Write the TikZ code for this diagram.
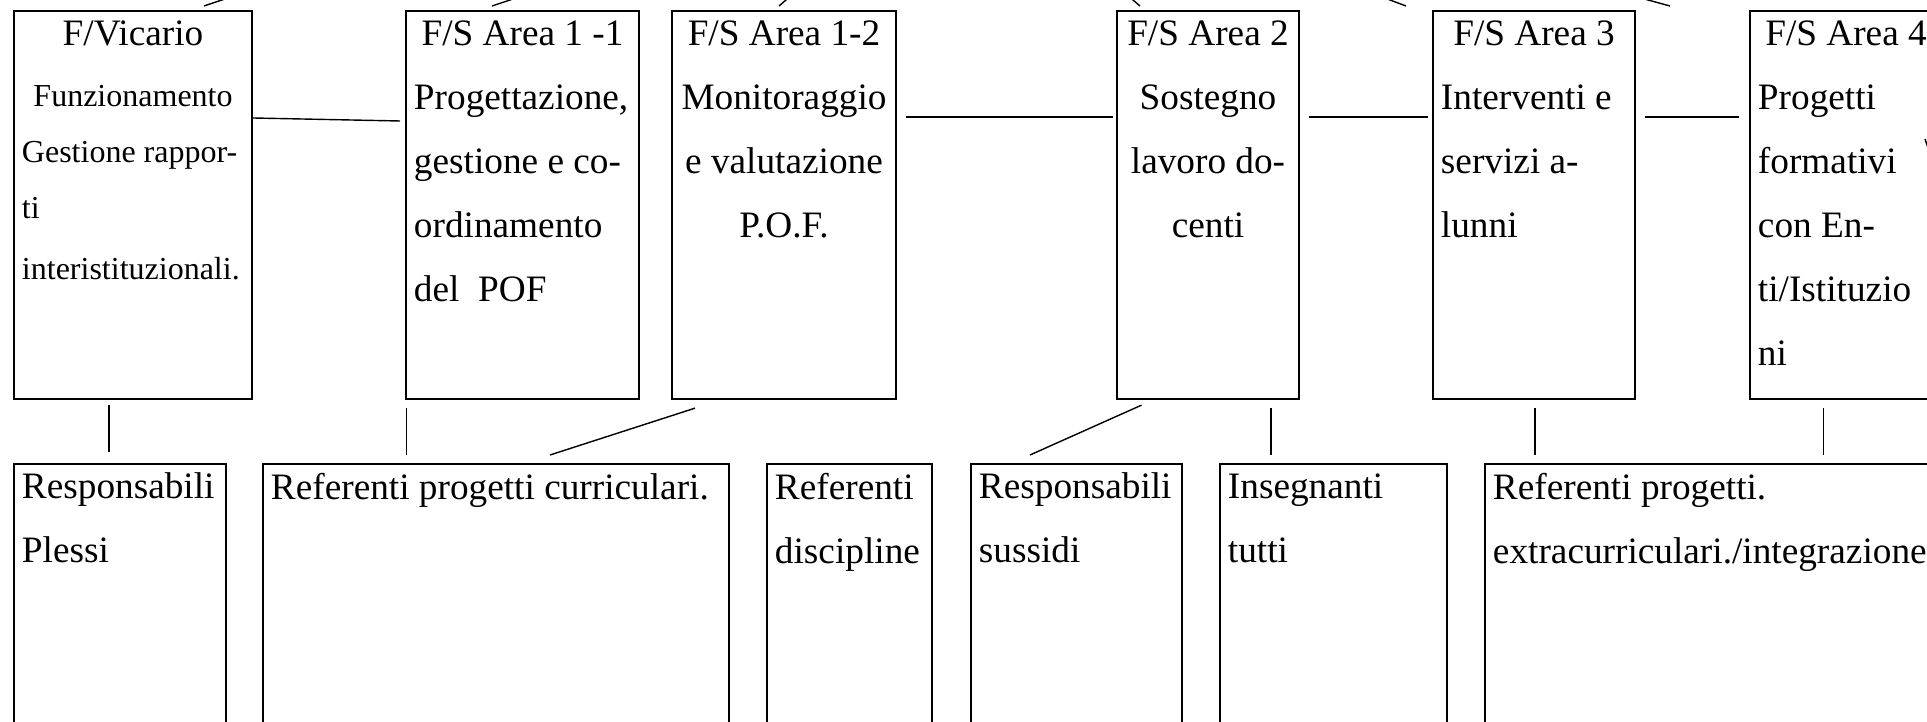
\documentclass[tikz,border=0pt]{standalone}
\usepackage{fontspec}
\setmainfont{Liberation Serif}

\newcommand{\mainsize}{\fontsize{10.6}{18.2}\selectfont}
\newcommand{\vicsize}{\fontsize{9.1}{16}\selectfont}
\newcommand{\boxtext}[3]{\parbox[t][#2][t]{#1}{\rule{0pt}{0.26cm}#3}}

\begin{document}
\begin{tikzpicture}[x=0.01cm, y=-0.01cm,
  box/.style={draw, rectangle, line width=0.55pt, anchor=north west, inner xsep=0.08cm, inner ysep=0.09cm, font=\mainsize},
  conn/.style={line width=0.4pt}]
  \useasboundingbox (0,0) rectangle (1927,722);
  \clip (0,0) rectangle (1927,722);
  \fill[white] (0,0) rectangle (1927,722);

  % upper row
  \node (vicario) [box] at (13,10) {\boxtext{2.22cm}{3.70cm}{\centering F/Vicario\par\vspace{0.04cm}
    \vicsize Funzionamento\par\raggedright Gestione rappor-\\ti\\[0.04cm]interistituzionali.}};
  \node (progett) [box] at (405,10) {\boxtext{2.17cm}{3.70cm}{\centering F/S Area 1 -1\par
    \raggedright Progettazione,\\gestione e co-\\ordinamento\\del\ \ POF}};
  \node (monit) [box] at (671,10) {\boxtext{2.08cm}{3.70cm}{\centering F/S Area 1-2\\Monitoraggio\\e valutazione\\P.O.F.}};
  \node (sostegno) [box] at (1116,10) {\boxtext{1.66cm}{3.70cm}{\centering F/S Area 2\\Sostegno\\lavoro do-\\centi}};
  \node (interv) [box] at (1432,10) {\boxtext{1.86cm}{3.70cm}{\centering F/S Area 3\par
    \raggedright Interventi e\\servizi a-\\lunni}};
  \node (enti) [box] at (1749,10) {\boxtext{1.76cm}{3.70cm}{\centering F/S Area 4\par
    \raggedright Progetti\\formativi\\con En-\\ti/Istituzio\\ni}};

  % lower row
  \node (plessi) [box] at (13,463) {\boxtext{1.96cm}{2.82cm}{\raggedright Responsabili\\Plessi}};
  \node (curric) [box] at (262,463) {\boxtext{4.50cm}{2.82cm}{\raggedright Referenti progetti curriculari.}};
  \node (discip) [box] at (766,463) {\boxtext{1.49cm}{2.82cm}{\raggedright Referenti\\discipline}};
  \node (sussidi) [box] at (970,463) {\boxtext{1.95cm}{2.82cm}{\raggedright Responsabili\\sussidi}};
  \node (insegn) [box] at (1219,463) {\boxtext{2.11cm}{2.82cm}{\raggedright Insegnanti\\tutti}};
  \node (extra) [box] at (1484,463) {\boxtext{5.00cm}{2.82cm}{\raggedright Referenti progetti.\\extracurriculari./integrazione}};

  % ends of the lines leaving the picture
  \coordinate (upvic) at (240,-6);
  \coordinate (upprog) at (528,-6);
  \coordinate (upmon) at (793,-6);
  \coordinate (upsost) at (1126,-6);
  \coordinate (upint) at (1374,-6);
  \coordinate (upenti) at (1626,-6);
  \coordinate (rim1) at (1925,139);
  \coordinate (rim2) at (1929,151);

  \draw[conn] ([shift={(191,-4)}]vicario.north west) -- (upvic);
  \draw[conn] ([shift={(87,-4)}]progett.north west) -- (upprog);
  \draw[conn] ([shift={(108,-4)}]monit.north west) -- (upmon);
  \draw[conn] ([shift={(24,-4)}]sostegno.north west) -- (upsost);
  \draw[conn] ([shift={(-26,-4)}]interv.north west) -- (upint);
  \draw[conn] ([shift={(-79,-4)}]enti.north west) -- (upenti);
  \draw[conn] (rim1) -- (rim2);

  \draw[conn] ([shift={(0,108)}]vicario.north east) -- ([shift={(-5,111)}]progett.north west);
  \draw[conn] ([shift={(9,107)}]monit.north east) -- ([shift={(-3,107)}]sostegno.north west);
  \draw[conn] ([shift={(9,107)}]sostegno.north east) -- ([shift={(-4,107)}]interv.north west);
  \draw[conn] ([shift={(9,107)}]interv.north east) -- ([shift={(-10,107)}]enti.north west);

  \draw[conn] ([shift={(96,5)}]vicario.south west) -- ([shift={(96,-11)}]plessi.north west);
  \draw[conn] ([shift={(1.5,8)}]progett.south west) -- ([shift={(144.5,-8)}]curric.north west);
  \draw[conn] ([shift={(24,8)}]monit.south west) -- ([shift={(288,-8)}]curric.north west);
  \draw[conn] ([shift={(25.5,5)}]sostegno.south west) -- ([shift={(60,-8)}]sussidi.north west);
  \draw[conn] ([shift={(155,8)}]sostegno.south west) -- ([shift={(52,-8)}]insegn.north west);
  \draw[conn] ([shift={(103,8)}]interv.south west) -- ([shift={(51,-8)}]extra.north west);
  \draw[conn] ([shift={(74.5,8)}]enti.south west) -- ([shift={(339.5,-8)}]extra.north west);
\end{tikzpicture}
\end{document}
